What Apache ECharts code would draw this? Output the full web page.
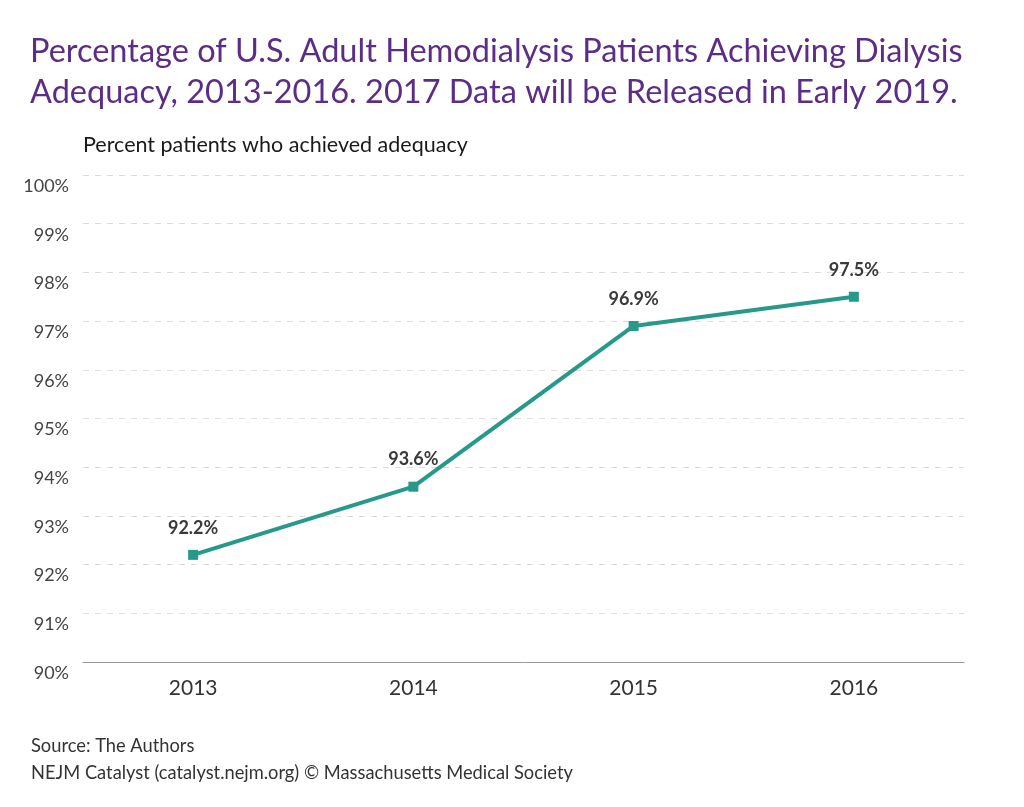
<!DOCTYPE html>
<html>
<head>
<meta charset="utf-8">
<script src="https://cdn.jsdelivr.net/npm/echarts@6/dist/echarts.min.js"></script>
<style>
  html, body { margin: 0; padding: 0; background: #fff; }
  #chart { width: 1024px; height: 807px; }
</style>
</head>
<body>
<div id="chart"></div>
<script>
var years = ['2013', '2014', '2015', '2016'];
var adequacy = [92.2, 93.6, 96.9, 97.5];
var yMin = 90, yMax = 100;

var font = 'Lato, "Open Sans", sans-serif';
var chart = echarts.init(document.getElementById('chart'), null, { renderer: 'canvas' });

var option = {
  backgroundColor: '#fff',
  animation: false,
  title: [
    {
      text: 'Percentage of U.S. Adult Hemodialysis Patients Achieving Dialysis\nAdequacy, 2013-2016. 2017 Data will be Released in Early 2019.',
      left: 25, top: 26,
      textStyle: { color: '#5b2d87', fontSize: 32.5, fontWeight: 'normal', fontFamily: font, lineHeight: 41 }
    },
    {
      text: 'Percent patients who achieved adequacy',
      left: 78, top: 129,
      textStyle: { color: '#1a1a1a', fontSize: 21.5, fontWeight: 'normal', fontFamily: font }
    },
    {
      text: 'Source: The Authors\nNEJM Catalyst (catalyst.nejm.org) © Massachusetts Medical Society',
      left: 26, top: 728,
      textStyle: { color: '#333', fontSize: 18.3, fontWeight: 'normal', fontFamily: font, lineHeight: 27 }
    }
  ],
  grid: { left: 83, right: 60, top: 175, bottom: 145 },
  xAxis: {
    type: 'category',
    data: years,
    boundaryGap: true,
    axisLine: { lineStyle: { color: '#999', width: 1 } },
    axisTick: { show: false },
    axisLabel: { color: '#333', fontSize: 21, fontFamily: font, margin: 16 }
  },
  yAxis: {
    type: 'value',
    min: yMin, max: yMax, interval: 1,
    axisLine: { show: false },
    axisTick: { show: false },
    axisLabel: {
      color: '#444', fontSize: 18, fontFamily: font, margin: 14,
      verticalAlign: 'top', lineHeight: 22,
      formatter: '{value}%'
    },
    splitLine: { lineStyle: { color: '#ddd', type: [6, 6], width: 1 } }
  },
  series: [{
    type: 'line',
    data: adequacy,
    symbol: 'rect',
    symbolSize: 10,
    lineStyle: { color: '#26998a', width: 4 },
    itemStyle: { color: '#26998a' },
    label: {
      show: true, position: 'top', distance: 13,
      formatter: function (p) { return p.value.toFixed(1) + '%'; },
      color: '#3a3a3a', fontSize: 18, fontWeight: 'bold', fontFamily: font
    }
  }]
};
chart.setOption(option);
</script>
</body>
</html>
